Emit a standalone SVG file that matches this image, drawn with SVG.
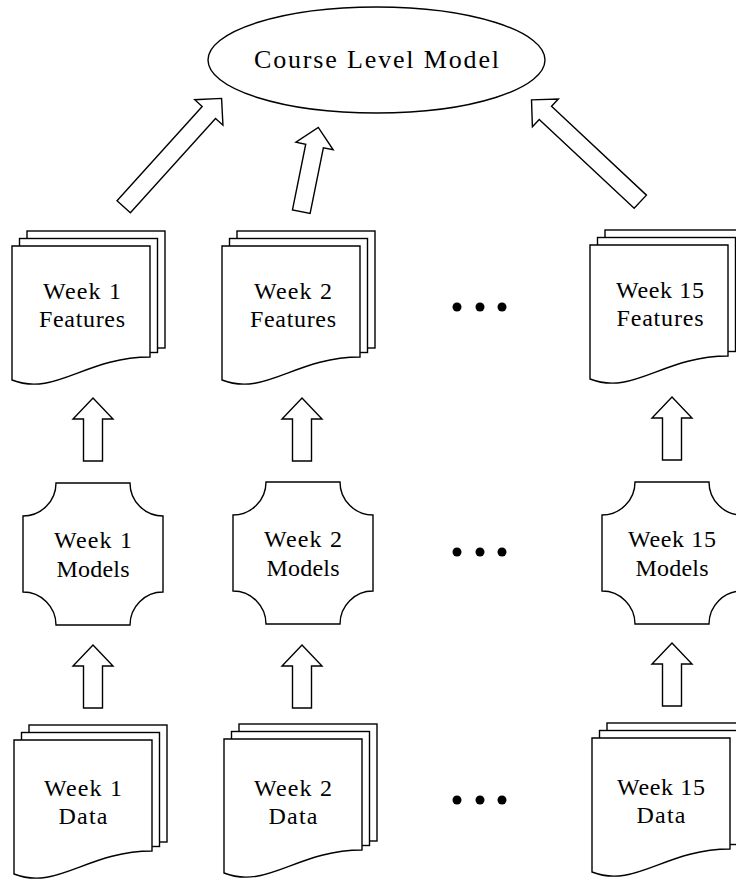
<svg xmlns="http://www.w3.org/2000/svg" xmlns:xlink="http://www.w3.org/1999/xlink" width="736" height="880" viewBox="0 0 736 880">
<style>
.s{fill:#fff;stroke:#000;stroke-width:1.4;stroke-linejoin:miter}
.t{font-family:"Liberation Serif","Times New Roman",serif;font-size:24px;fill:#000;text-anchor:middle}
.big{font-size:26px}
.dot{fill:#000}
</style>
<defs>
<g id="doc">
<rect class="s" x="15" y="-15" width="138" height="117"/>
<rect class="s" x="7.5" y="-7.5" width="138" height="114"/>
<path class="s" d="M0,0 H138 V111 C73,111 43,151 0,134 Z"/>
</g>
<path id="mod" class="s" d="M33,0 H107 A33,33 0 0 0 140,33 V109 A33,33 0 0 0 107,142 H33 A33,33 0 0 0 0,109 V33 A33,33 0 0 0 33,0 Z"/>
<polygon id="varrow" class="s" points="-9.5,63 -9.5,21 -20,21 0,0 20,21 9.5,21 9.5,63"/>
</defs>
<rect width="736" height="880" fill="#fff"/>

<g id="course">
<ellipse class="s" cx="376.5" cy="60" rx="168.5" ry="53"/>
<text class="t big" x="376.5" y="68" textLength="245" lengthAdjust="spacing">Course Level Model</text>
</g>

<g id="features1" transform="translate(12,246)">
<use xlink:href="#doc"/>
<text class="t" x="70" y="53" textLength="78" lengthAdjust="spacing">Week 1</text>
<text class="t" x="70" y="81" textLength="86" lengthAdjust="spacing">Features</text>
</g>
<g id="features2" transform="translate(222,246)">
<use xlink:href="#doc"/>
<text class="t" x="71" y="53" textLength="78" lengthAdjust="spacing">Week 2</text>
<text class="t" x="71" y="81" textLength="86" lengthAdjust="spacing">Features</text>
</g>
<g id="features15" transform="translate(590,245)">
<use xlink:href="#doc"/>
<text class="t" x="70" y="53" textLength="88" lengthAdjust="spacing">Week 15</text>
<text class="t" x="70" y="81" textLength="87" lengthAdjust="spacing">Features</text>
</g>

<g id="models1" transform="translate(23,483)">
<use xlink:href="#mod"/>
<text class="t" x="70" y="65" textLength="78" lengthAdjust="spacing">Week 1</text>
<text class="t" x="70" y="94" textLength="73" lengthAdjust="spacing">Models</text>
</g>
<g id="models2" transform="translate(233,482)">
<use xlink:href="#mod"/>
<text class="t" x="70" y="65" textLength="78" lengthAdjust="spacing">Week 2</text>
<text class="t" x="70" y="94" textLength="73" lengthAdjust="spacing">Models</text>
</g>
<g id="models15" transform="translate(602,482)">
<use xlink:href="#mod"/>
<text class="t" x="70" y="65" textLength="88" lengthAdjust="spacing">Week 15</text>
<text class="t" x="70" y="94" textLength="73" lengthAdjust="spacing">Models</text>
</g>

<g id="data1" transform="translate(14,740)">
<use xlink:href="#doc"/>
<text class="t" x="69" y="56" textLength="78" lengthAdjust="spacing">Week 1</text>
<text class="t" x="69" y="84" textLength="49" lengthAdjust="spacing">Data</text>
</g>
<g id="data2" transform="translate(224,739)">
<use xlink:href="#doc"/>
<text class="t" x="69" y="57" textLength="78" lengthAdjust="spacing">Week 2</text>
<text class="t" x="69" y="85" textLength="49" lengthAdjust="spacing">Data</text>
</g>
<g id="data15" transform="translate(592,738)">
<use xlink:href="#doc"/>
<text class="t" x="69" y="57" textLength="88" lengthAdjust="spacing">Week 15</text>
<text class="t" x="69" y="85" textLength="49" lengthAdjust="spacing">Data</text>
</g>

<g id="dots">
<circle class="dot" cx="457" cy="307" r="4.5"/><circle class="dot" cx="480" cy="307" r="4.5"/><circle class="dot" cx="502" cy="307" r="4.5"/>
<circle class="dot" cx="457" cy="552" r="4.5"/><circle class="dot" cx="480" cy="552" r="4.5"/><circle class="dot" cx="502" cy="552" r="4.5"/>
<circle class="dot" cx="457" cy="800" r="4.5"/><circle class="dot" cx="480" cy="800" r="4.5"/><circle class="dot" cx="502" cy="800" r="4.5"/>
</g>

<g id="connectors">
<use xlink:href="#varrow" x="93" y="398"/>
<use xlink:href="#varrow" x="302" y="398"/>
<use xlink:href="#varrow" x="672" y="397"/>
<use xlink:href="#varrow" x="93" y="645"/>
<use xlink:href="#varrow" x="302" y="645"/>
<use xlink:href="#varrow" x="672" y="643"/>
<polygon class="s" transform="translate(123.7,206.7) rotate(-47.9)" points="0,-9 127,-9 127,-19 146,0 127,19 127,9 0,9"/>
<polygon class="s" transform="translate(301.3,211.7) rotate(-78.6)" points="0,-9 67,-9 67,-19 86,0 67,19 67,9 0,9"/>
<polygon class="s" transform="translate(640.3,201.7) rotate(-136.9)" points="0,-9 130,-9 130,-19 149,0 130,19 130,9 0,9"/>
</g>
</svg>
